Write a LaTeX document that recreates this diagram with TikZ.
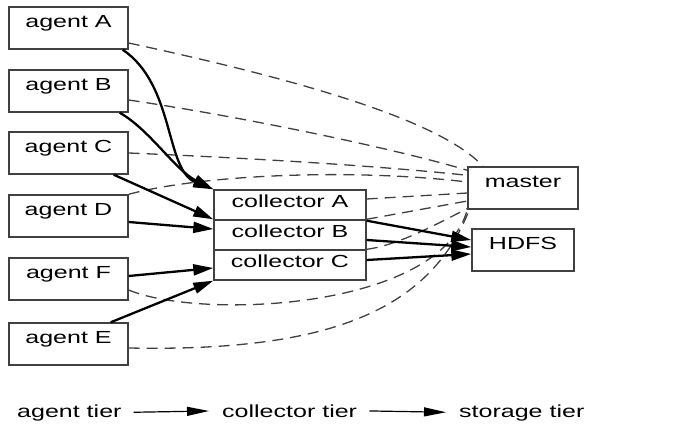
\documentclass[tikz,border=0pt]{standalone}
\usepackage{fontspec}
\setmainfont{Liberation Sans}[FakeStretch=1.43]
\usetikzlibrary{arrows.meta}

\begin{document}
\begin{tikzpicture}[x=1pt, y=-1pt,
  font=\fontsize{17.5}{21}\selectfont,
  box/.style={draw=black!75, line width=1.4pt, inner sep=0pt, text height=13pt, text depth=14.5pt},
  agent/.style={box, minimum width=119pt, minimum height=42pt},
  collector/.style={box, minimum width=152pt, minimum height=30pt, text depth=8pt},
  feed/.style={line width=2.3pt, -{Triangle[length=20pt,width=11pt]}},
  ctrl/.style={dash pattern=on 11pt off 7pt, draw=black!75, line width=1.3pt},
  tier/.style={inner sep=0pt, anchor=base west},
  tierarrow/.style={line width=1.2pt, -{Triangle[length=22pt,width=9pt]}, shorten <=12pt, shorten >=13pt}]
\useasboundingbox (0,0) rectangle (673,428);
\node[agent] (agA) at (68.5,28) {agent A};
\node[agent] (agB) at (68.5,91) {agent B};
\node[agent] (agC) at (68.5,153) {agent C};
\node[agent] (agD) at (68.5,216) {agent D};
\node[agent] (agF) at (68.5,279) {agent F};
\node[agent] (agE) at (68.5,344) {agent E};
\node[collector] (collA) at (290,205) {collector A};
\node[collector] (collB) at (290,235) {collector B};
\node[collector] (collC) at (290,265) {collector C};
\node[box, minimum width=110pt, minimum height=42pt] (master) at (523,188) {master};
\node[box, minimum width=102pt, minimum height=42pt] (hdfs) at (523,250) {HDFS};
% heartbeats to the master
\draw[ctrl] ([yshift=-15pt]agA.east) .. controls (300,80) and (440,120) .. ([xshift=-40pt]master.north);
\draw[ctrl] ([yshift=-9pt]agB.east) .. controls (250,118) and (400,150) .. ([yshift=-4pt]master.north west);
\draw[ctrl] (agC.east) .. controls (250,158) and (380,166) .. ([yshift=-9pt]master.north west);
\draw[ctrl] (agD.north east) .. controls (200,175) and (350,168) .. ([yshift=6pt]master.west);
\draw[ctrl] ([yshift=6pt]collA.east) -- ([yshift=-5pt]master.west);
\draw[ctrl] (collB.north east) -- ([yshift=-13pt]master.west);
\draw[ctrl] (collC.north east) .. controls (400,245) and (440,222) .. ([yshift=1pt]master.south west);
\draw[ctrl] ([yshift=-11pt]agF.east) .. controls (200,320) and (440,310) .. (master.south west);
\draw[ctrl] ([yshift=-4pt]agE.east) .. controls (330,352) and (430,310) .. ([xshift=2pt]master.south west);
% data flow
\draw[feed] ([xshift=-6pt]agA.south east) .. controls (175,85) and (165,170) .. (collA.north west);
\draw[feed] ([xshift=-9pt]agB.south east) .. controls (150,130) and (175,170) .. (collA.north west);
\draw[feed] ([xshift=-15pt]agC.south east) -- (collB.north west);
\draw[feed] ([yshift=-6pt]agD.east) -- ([yshift=6pt]collB.west);
\draw[feed] ([yshift=3pt]agF.east) -- ([yshift=-3pt]collC.west);
\draw[feed] ([xshift=-18pt]agE.north east) -- (collC.south west);
\draw[feed] (collA.south east) -- ([yshift=10pt]hdfs.west);
\draw[feed] ([yshift=-5pt]collB.east) -- ([yshift=3pt]hdfs.west);
\draw[feed] ([yshift=5pt]collC.east) -- ([yshift=-4pt]hdfs.west);
\node[tier] (tierA) at (17,417) {agent tier};
\node[tier] (tierC) at (222,417) {collector tier};
\node[tier] (tierS) at (459,417) {storage tier};
\draw[tierarrow] (tierA.east) -- (tierC.west);
\draw[tierarrow] (tierC.east) -- (tierS.west);
\end{tikzpicture}
\end{document}
